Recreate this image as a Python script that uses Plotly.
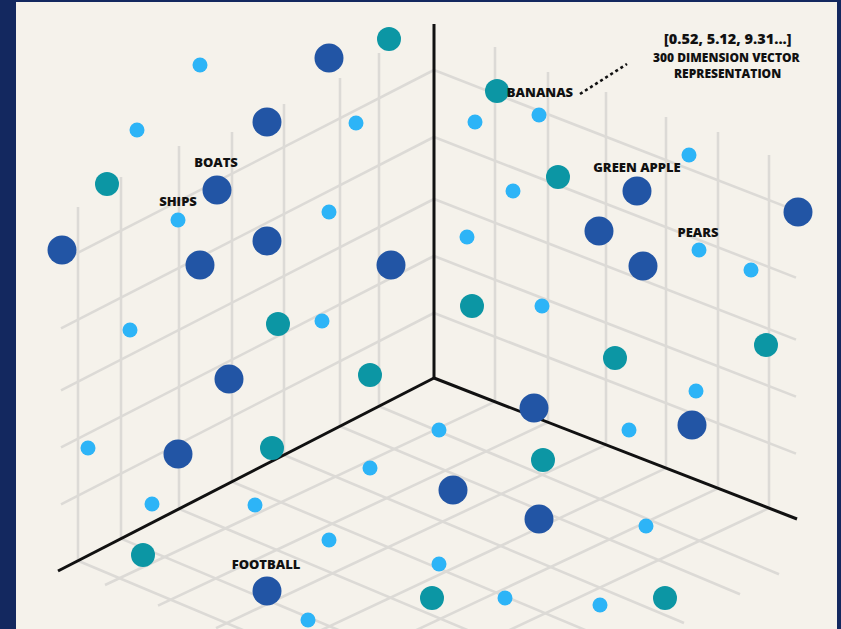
import plotly.graph_objects as go

# ---------------- data (pixel space) ----------------
# dark blue large points
dark_x = [329, 267, 217, 62, 267, 200, 391, 637, 798, 599, 643, 229, 178, 534, 692, 453, 539, 267]
dark_y = [58, 122, 190, 250, 241, 265, 265, 191, 212, 231, 266, 379, 454, 408, 425, 490, 519, 591]
# teal medium points
teal_x = [389, 107, 497, 558, 472, 278, 370, 272, 143, 615, 766, 543, 432, 665]
teal_y = [39, 184, 91, 177, 306, 324, 375, 448, 555, 358, 345, 460, 598, 598]
# light blue small points
light_x = [200, 137, 356, 178, 329, 475, 539, 689, 513, 467, 699, 751, 542,
           322, 130, 88, 152, 255, 370, 329, 308, 696, 439, 629, 646, 439, 505, 600]
light_y = [65, 130, 123, 220, 212, 122, 115, 155, 191, 237, 250, 270, 306,
           321, 330, 448, 504, 505, 468, 540, 620, 391, 430, 430, 526, 564, 598, 605]

labels = ["BOATS", "SHIPS", "BANANAS", "GREEN APPLE", "PEARS", "FOOTBALL"]
label_x = [216, 178, 540, 637, 698, 266]
label_y = [164, 203, 94, 169, 234, 566]

note_lines = ["[0.52, 5.12, 9.31...]", "300 DIMENSION VECTOR", "REPRESENTATION"]
note_x = [728, 727, 727]
note_y = [38.5, 57.5, 73]
note_size = [14.5, 12, 12]

# grid structure
origin = (434, 378)
left_end = (58, 571)
right_end = (797, 519)
axis_top = 24
left_vert_x = [78, 121, 179, 232, 284, 340, 379]
left_vert_top = [207, 177, 146, 132, 104, 78, 53]
right_vert_x = [495, 548, 606, 666, 718, 769]
right_vert_top = [47, 72, 92, 117, 132, 155]
wall_heights = [70, 137, 199, 256, 313]

W, H = 841, 629
NAVY = "#13285f"
CREAM = "#f5f2eb"
GRID = "#dcdad6"
INK = "#111111"
FONT = "Open Sans"

sl_left = (left_end[1] - origin[1]) / (left_end[0] - origin[0])
sl_right = (right_end[1] - origin[1]) / (right_end[0] - origin[0])


def on_left_axis(x):
    return origin[1] + sl_left * (x - origin[0])


def on_right_axis(x):
    return origin[1] + sl_right * (x - origin[0])


gx, gy = [], []
for x, t in zip(left_vert_x, left_vert_top):
    gx += [x, x, None]
    gy += [t, on_left_axis(x), None]
for x, t in zip(right_vert_x, right_vert_top):
    gx += [x, x, None]
    gy += [t, on_right_axis(x), None]
for h in wall_heights:
    xl = 61
    gx += [xl, origin[0], None]
    gy += [h + sl_left * (xl - origin[0]), h, None]
    xr = 796
    gx += [origin[0], xr, None]
    gy += [h, h + sl_right * (xr - origin[0]), None]
FL_V = 0.42
for x in left_vert_x:
    y0 = on_left_axis(x)
    gx += [x, x + 400, None]
    gy += [y0, y0 + FL_V * 400, None]
FL_U = -0.47
for x in right_vert_x:
    y0 = on_right_axis(x)
    gx += [x, x - 390, None]
    gy += [y0, y0 - FL_U * 390, None]

fig = go.Figure()
fig.add_shape(type="rect", x0=16, x1=837, y0=2, y1=H + 5, xref="x", yref="y",
              fillcolor=CREAM, line=dict(width=0), layer="below")

fig.add_trace(go.Scatter(x=gx, y=gy, mode="lines", line=dict(color=GRID, width=2.6),
                         hoverinfo="skip", showlegend=False))
fig.add_trace(go.Scatter(
    x=[origin[0], origin[0], None, origin[0], left_end[0], None, origin[0], right_end[0]],
    y=[axis_top, origin[1], None, origin[1], left_end[1], None, origin[1], right_end[1]],
    mode="lines", line=dict(color=INK, width=3), hoverinfo="skip", showlegend=False))
fig.add_trace(go.Scatter(x=[580, 627], y=[94, 64], mode="lines",
                         line=dict(color=INK, width=2.6, dash="dot"),
                         hoverinfo="skip", showlegend=False))

fig.add_trace(go.Scatter(x=light_x, y=light_y, mode="markers",
                         marker=dict(size=15, color="#2db4f7", line=dict(width=0)),
                         showlegend=False))
fig.add_trace(go.Scatter(x=teal_x, y=teal_y, mode="markers",
                         marker=dict(size=24, color="#0c96a4", line=dict(width=0)),
                         showlegend=False))
fig.add_trace(go.Scatter(x=dark_x, y=dark_y, mode="markers",
                         marker=dict(size=29, color="#2255a5", line=dict(width=0)),
                         showlegend=False))

fig.add_trace(go.Scatter(x=label_x, y=label_y, mode="text", text=labels,
                         textposition="middle center",
                         textfont=dict(family=FONT, size=13, color=INK, weight=800),
                         showlegend=False, hoverinfo="skip"))

for t, x, y, s in zip(note_lines, note_x, note_y, note_size):
    fig.add_annotation(x=x, y=y, text=t, showarrow=False,
                       xanchor="center", yanchor="middle", align="center",
                       font=dict(family=FONT, size=s, color=INK, weight=800))

fig.update_layout(
    width=W, height=H,
    margin=dict(l=0, r=0, t=0, b=0),
    paper_bgcolor=NAVY, plot_bgcolor=NAVY,
    xaxis=dict(range=[0, W], visible=False, fixedrange=True),
    yaxis=dict(range=[H, 0], visible=False, fixedrange=True),
)
fig.write_html("out.html", config={"displayModeBar": False},
               post_script="document.body.style.margin='0';document.body.style.background='%s';" % NAVY)
